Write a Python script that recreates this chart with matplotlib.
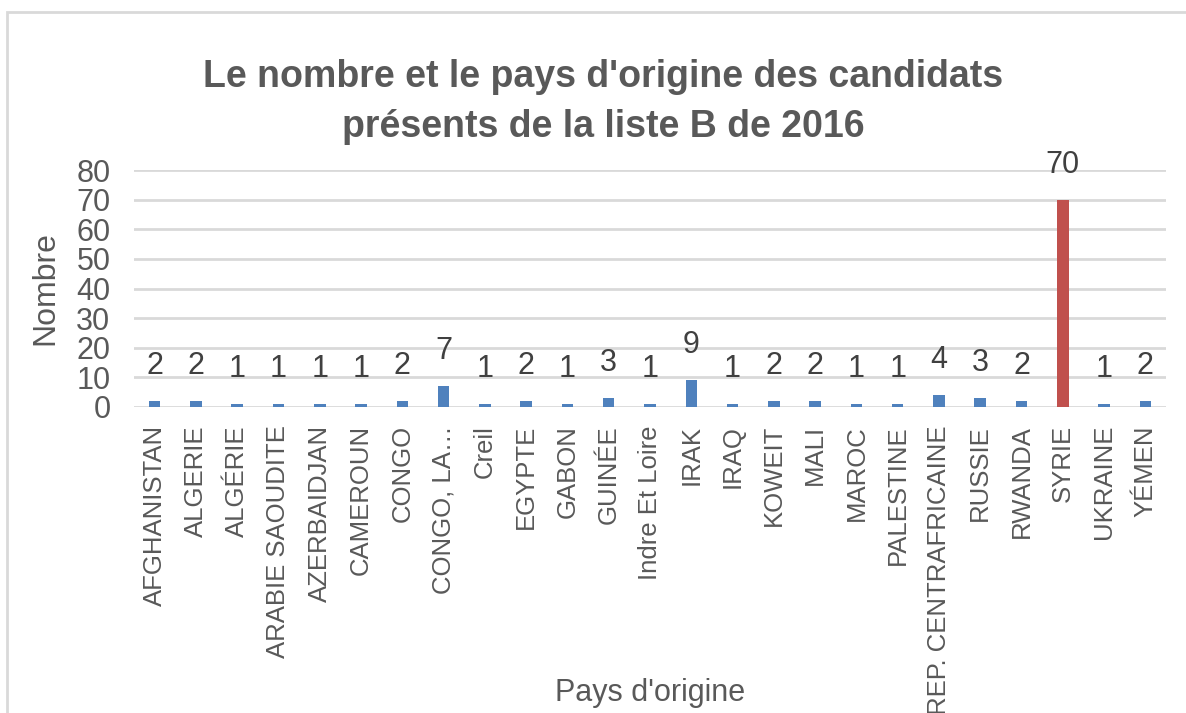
import matplotlib
matplotlib.use("Agg")
import matplotlib.pyplot as plt
from matplotlib.patches import Rectangle
from matplotlib import font_manager

# Data
pays = ["AFGHANISTAN", "ALGERIE", "ALGÉRIE", "ARABIE SAOUDITE", "AZERBAIDJAN",
        "CAMEROUN", "CONGO", "CONGO, LA…", "Creil", "EGYPTE", "GABON", "GUINÉE",
        "Indre Et Loire", "IRAK", "IRAQ", "KOWEIT", "MALI", "MAROC", "PALESTINE",
        "REP. CENTRAFRICAINE", "RUSSIE", "RWANDA", "SYRIE", "UKRAINE", "YÉMEN"]
nombre = [2, 2, 1, 1, 1, 1, 2, 7, 1, 2, 1, 3, 1, 9, 1, 2, 2, 1, 1, 4, 3, 2, 70, 1, 2]
y_ticks = [0, 10, 20, 30, 40, 50, 60, 70, 80]

titre = "Le nombre et le pays d'origine des candidats\nprésents de la liste B de 2016"

names = {f.name for f in font_manager.fontManager.ttflist}
narrow = "Liberation Sans Narrow" if "Liberation Sans Narrow" in names else "Liberation Sans"

BLUE = "#4F81BD"
RED = "#C0504D"
GRID = "#D9D9D9"
TXT = "#595959"

W, H = 1186, 713
fig = plt.figure(figsize=(W / 100, H / 100), dpi=100)

# light frame around the chart (runs off the right and bottom edges)
fig.patches.append(Rectangle((7 / W, -0.05), 1.1, 1.05 - 12 / H,
                             transform=fig.transFigure, fill=False,
                             edgecolor=GRID, linewidth=2))

ax = fig.add_axes([134 / W, 1 - 407 / H, (1166 - 134) / W, (407 - 170) / H])

x = range(len(pays))
couleurs = [RED if v == max(nombre) else BLUE for v in nombre]
ax.bar(x, nombre, width=0.28, color=couleurs, zorder=3)

for xi, v in zip(x, nombre):
    ax.annotate(str(v), (xi, v), xytext=(0, 27), textcoords="offset pixels",
                ha="center", va="baseline", fontsize=22, color="#404040",
                family=narrow, zorder=4)

ax.set_xlim(-0.5, len(pays) - 0.5)
ax.set_ylim(0, 80)
ax.set_yticks(y_ticks)
ax.set_yticklabels([str(t) for t in y_ticks], family=narrow, fontsize=22, color=TXT)
ax.set_xticks(list(x))
ax.set_xticklabels(pays, rotation=90, family="Liberation Sans", fontsize=18.5,
                   color=TXT, va="top", ha="center")
ax.tick_params(axis="both", length=0)
ax.tick_params(axis="x", pad=13)
ax.tick_params(axis="y", pad=17)
ax.grid(axis="y", color=GRID, linewidth=2, zorder=0)
for s in ax.spines.values():
    s.set_visible(False)

fig.text(45 / W, 1 - 288 / H, "Nombre", rotation=90, ha="center", va="center",
         fontsize=23, color=TXT, family="Liberation Sans")
fig.text(650 / W, 1 - 693 / H, "Pays d'origine", ha="center", va="center",
         fontsize=22, color=TXT, family=narrow)
fig.text(603 / W, 1 - 102 / H, titre, ha="center", va="center", fontsize=27,
         fontweight="bold", color=TXT, family=narrow, linespacing=1.5)

fig.savefig("out.png", dpi=100)
